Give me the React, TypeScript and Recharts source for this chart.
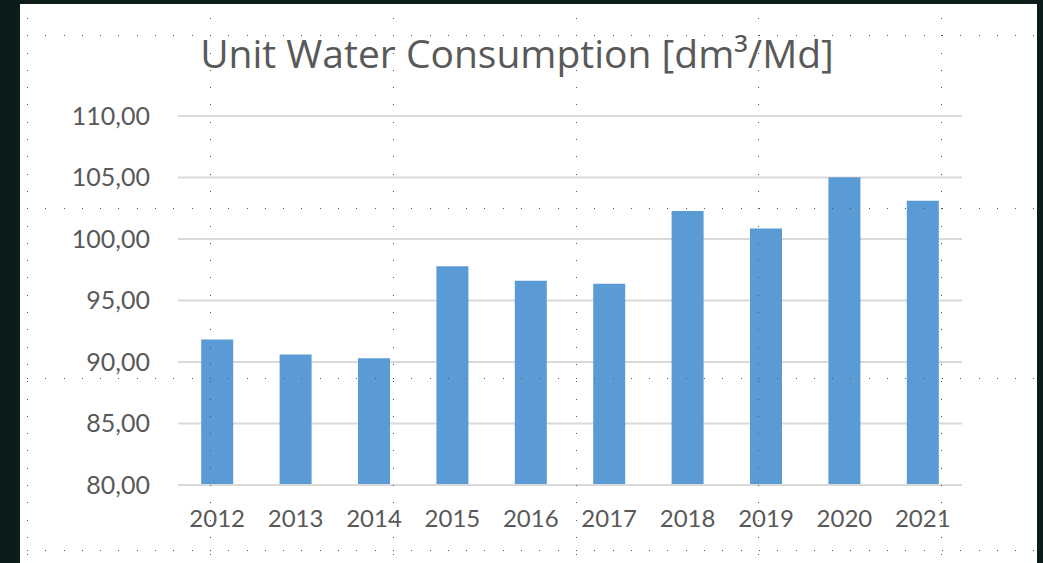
import React from "react";
import { BarChart, Bar, XAxis, YAxis, CartesianGrid } from "recharts";

const years = ["2012", "2013", "2014", "2015", "2016", "2017", "2018", "2019", "2020", "2021"];
const consumption = [91.83, 90.61, 90.31, 97.78, 96.61, 96.37, 102.27, 100.86, 105.02, 103.11];
const yTicks = [80, 85, 90, 95, 100, 105, 110];

const data = years.map((year, i) => ({ year, value: consumption[i] }));

const TEXT = "#595959";
const GRID = "#d9d9d9";
const FONT = "Lato, 'Open Sans', sans-serif";

// editor-style dotted guides drawn over the picture
const guideX = [27, 210, 393, 576, 758, 941];
const guideY = [35, 208, 378, 550];

function Guides() {
  return (
    <>
      {guideX.map((x) => (
        <div
          key={"v" + x}
          style={{
            position: "absolute",
            left: x,
            top: 18,
            width: 1,
            height: 545,
            backgroundImage: "repeating-linear-gradient(to bottom, #555 0 1px, transparent 1px 17.3px)",
          }}
        />
      ))}
      {guideY.map((y) => (
        <div
          key={"h" + y}
          style={{
            position: "absolute",
            left: 27,
            top: y,
            width: 1008,
            height: 1,
            backgroundImage: "repeating-linear-gradient(to right, #555 0 1px, transparent 1px 18.3px)",
          }}
        />
      ))}
    </>
  );
}

export default function App() {
  return (
    <div
      style={{
        position: "absolute",
        left: 0,
        top: 0,
        width: 1043,
        height: 563,
        background: "#0b1c1b",
        overflow: "hidden",
      }}
    >
      <div
        style={{
          position: "absolute",
          left: 20,
          top: 4,
          width: 1017,
          height: 559,
          background: "#ffffff",
        }}
      >
        <div
          style={{
            position: "absolute",
            left: 0,
            top: 25,
            width: 994,
            textAlign: "center",
            fontFamily: "'Open Sans', sans-serif",
            fontSize: 39,
            color: TEXT,
            lineHeight: "48px",
            whiteSpace: "nowrap",
          }}
        >
          Unit Water Consumption [dm³/Md]
        </div>
        <BarChart
          width={1017}
          height={559}
          data={data}
          margin={{ top: 112, right: 75, left: 0, bottom: 0 }}
          barCategoryGap="29.6%"
        >
          <CartesianGrid vertical={false} stroke={GRID} strokeWidth={2} />
          <XAxis
            dataKey="year"
            height={78}
            tickLine={false}
            tickSize={0}
            tickMargin={25}
            axisLine={{ stroke: GRID, strokeWidth: 2 }}
            tick={{ fontSize: 24, fill: TEXT, fontFamily: FONT }}
          />
          <YAxis
            width={158}
            domain={[80, 110]}
            ticks={yTicks}
            interval={0}
            axisLine={false}
            tickLine={false}
            tickSize={0}
            tickMargin={28}
            tickFormatter={(v: number) => v.toFixed(2).replace(".", ",")}
            tick={{ fontSize: 25, fill: TEXT, fontFamily: FONT }}
          />
          <Bar dataKey="value" fill="#5b9bd5" isAnimationActive={false} />
        </BarChart>
      </div>
      <Guides />
    </div>
  );
}
